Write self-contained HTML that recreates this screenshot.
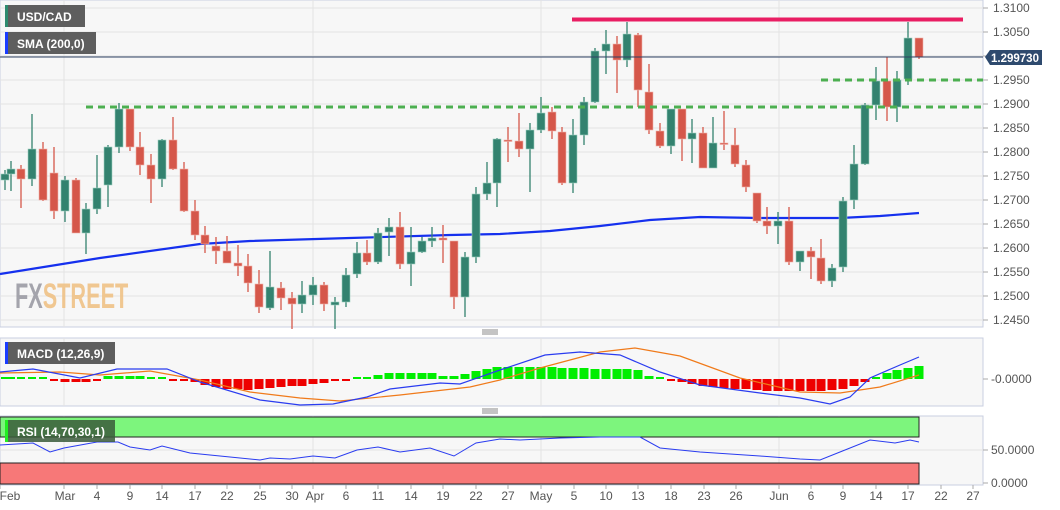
<!DOCTYPE html>
<html><head><meta charset="utf-8">
<style>
html,body{margin:0;padding:0;background:#fff;width:1060px;height:510px;overflow:hidden;font-family:"Liberation Sans",sans-serif;}
svg{display:block}
.ax{font-size:12px;fill:#555;font-family:"Liberation Sans",sans-serif}
.lbl{font-size:12px;fill:#fff;font-weight:bold;font-family:"Liberation Sans",sans-serif}
</style></head><body>
<svg id="s" width="1060" height="510" xmlns="http://www.w3.org/2000/svg">
<rect x="0" y="0" width="983" height="327" fill="#f7f7f7" stroke="#c9cfe0"/>
<rect x="0" y="338" width="983" height="68" fill="#f7f7f7" stroke="#c9cfe0"/>
<rect x="0" y="416" width="983" height="69" fill="#f7f7f7" stroke="#c9cfe0"/>
<g id="grid" stroke="#e3e3e3" stroke-width="1"></g>
<text x="15" y="308" font-size="35" font-weight="bold" fill="#9c9ca4" opacity="0.9" transform="translate(15,0) scale(0.62,1) translate(-15,0)">FX<tspan fill="#f0c287">STREET</tspan></text>
<g id="sma"></g>
<g id="candles"></g>
<line x1="86" y1="107" x2="983" y2="107" stroke="#4caf50" stroke-width="3" stroke-dasharray="7,5"/>
<line x1="821" y1="80" x2="983" y2="80" stroke="#4caf50" stroke-width="3" stroke-dasharray="7,5"/>
<line x1="572" y1="19.5" x2="963" y2="19.5" stroke="#e91e63" stroke-width="4"/>
<line x1="0" y1="57" x2="983" y2="57" stroke="#2e4163" stroke-width="1"/>
<rect x="5" y="5" width="80" height="22" fill="#5e5e5e"/><rect x="5" y="5" width="3" height="22" fill="#2e8b6f"/>
<text x="17" y="21" class="lbl">USD/CAD</text>
<rect x="5" y="32" width="91" height="22" fill="#5e5e5e"/><rect x="5" y="32" width="3" height="22" fill="#1a3cff"/>
<text x="17" y="48" class="lbl">SMA (200,0)</text>
<g id="pax"></g>
<path d="M985,57 L990,50 L1042,50 L1042,65 L990,65 Z" fill="#2e4a6e"/>
<text x="991" y="62" font-size="11.5" font-weight="bold" fill="#fff">1.299730</text>
<g stroke="#888" stroke-width="1"><line x1="482" y1="330" x2="498" y2="330"/><line x1="482" y1="332" x2="498" y2="332"/><line x1="482" y1="334" x2="498" y2="334"/>
<line x1="482" y1="409" x2="498" y2="409"/><line x1="482" y1="411" x2="498" y2="411"/><line x1="482" y1="413" x2="498" y2="413"/></g>
<g id="hist"></g>
<polyline fill="none" stroke="#f07a1a" stroke-width="1.2" points="0,373 60,372 100,375 150,371 200,380 250,392 300,398 340,401 400,395 470,387 500,380 540,368 600,352 635,348 680,356 740,378 800,392 840,393 880,387 919,375"/>
<polyline fill="none" stroke="#2a3cf0" stroke-width="1.2" points="0,372 33,369 80,378 117,369 167,369 200,382 260,400 300,405 333,404 367,397 390,389 440,383 460,384 500,370 545,355 580,352 620,355 660,372 700,385 760,393 800,398 830,404 850,397 870,378 900,365 919,357"/>
<line x1="983" y1="379" x2="988" y2="379" stroke="#aaa"/>
<text x="991" y="383" class="ax">-0.0000</text>
<rect x="5" y="342" width="110" height="22" fill="#5e5e5e"/><rect x="5" y="342" width="3" height="22" fill="#1a3cff"/>
<text x="17" y="358" class="lbl">MACD (12,26,9)</text>
<rect x="0" y="417" width="919" height="20" fill="#7df57d" stroke="#222" stroke-width="1"/>
<rect x="0" y="463" width="919" height="21" fill="#f77878" stroke="#222" stroke-width="1"/>
<line x1="0" y1="450" x2="983" y2="450" stroke="#e3e3e3"/>
<polyline fill="none" stroke="#2a3cf0" stroke-width="1" points="0,445 33,443 50,452 64,448 97,442 118,442 130,447 150,450 162,446 190,453 220,456 260,460 270,458 290,459 313,456 335,458 357,450 378,447 400,452 430,448 454,456 476,443 500,439 520,440 560,438 600,437 640,437 660,448 700,452 760,456 800,459 820,460 845,450 870,440 895,443 910,440 919,442"/>
<rect x="5" y="420" width="110" height="22" fill="#3a5a3a" opacity="0.85"/><rect x="5" y="420" width="3" height="22" fill="#22ee22"/>
<text x="17" y="436" class="lbl">RSI (14,70,30,1)</text>
<line x1="983" y1="450" x2="988" y2="450" stroke="#aaa"/><line x1="983" y1="483" x2="988" y2="483" stroke="#aaa"/>
<text x="991" y="454" class="ax">50.0000</text>
<text x="991" y="487" class="ax">0.0000</text>
<g class="ax" text-anchor="middle">
<text x="10" y="500">Feb</text><text x="65" y="500">Mar</text><text x="97" y="500">4</text><text x="130" y="500">9</text><text x="162" y="500">14</text><text x="195" y="500">17</text><text x="227" y="500">22</text><text x="260" y="500">25</text><text x="292" y="500">30</text><text x="315" y="500">Apr</text><text x="346" y="500">6</text><text x="378" y="500">11</text><text x="411" y="500">14</text><text x="443" y="500">19</text><text x="476" y="500">22</text><text x="508" y="500">27</text><text x="541" y="500">May</text><text x="574" y="500">5</text><text x="606" y="500">10</text><text x="638" y="500">13</text><text x="671" y="500">18</text><text x="704" y="500">23</text><text x="736" y="500">26</text><text x="779" y="500">Jun</text><text x="811" y="500">6</text><text x="843" y="500">9</text><text x="876" y="500">14</text><text x="908" y="500">17</text><text x="941" y="500">22</text><text x="973" y="500">27</text>
</g>
<g id="dt" stroke="#aaa"></g>
<g class="ax">
<text x="993" y="12">1.3100</text><text x="993" y="36">1.3050</text><text x="993" y="84">1.2950</text><text x="993" y="108">1.2900</text><text x="993" y="132">1.2850</text><text x="993" y="156">1.2800</text><text x="993" y="180">1.2750</text><text x="993" y="204">1.2700</text><text x="993" y="228">1.2650</text><text x="993" y="252">1.2600</text><text x="993" y="276">1.2550</text><text x="993" y="300">1.2500</text><text x="993" y="324">1.2450</text>
</g>
</svg>
<script>
var NS="http://www.w3.org/2000/svg";
function el(p,t,a){var e=document.createElementNS(NS,t);for(var k in a)e.setAttribute(k,a[k]);document.getElementById(p).appendChild(e);return e;}
for(var i=0;i<14;i++){var y=8+24*i;el("grid","line",{x1:0,x2:983,y1:y,y2:y});el("pax","line",{x1:983,x2:988,y1:y,y2:y,stroke:"#aaa"});}
[64,313,541,779].forEach(function(x){el("grid","line",{x1:x,x2:x,y1:0,y2:327});el("grid","line",{x1:x,x2:x,y1:338,y2:406});el("grid","line",{x1:x,x2:x,y1:416,y2:485});});
[0,64,97,130,162,195,227,260,292,313,346,378,411,443,476,508,541,574,606,638,671,704,736,779,811,843,876,908,941,973].forEach(function(x){el("dt","line",{x1:x,x2:x,y1:485,y2:489});});
el("sma","polyline",{points:"0,274 100,258 200,244 250,241 350,238 450,235 500,234 550,231 600,226 650,220 700,217 760,218 840,218 880,216 919,213",fill:"none",stroke:"#1530ee","stroke-width":2.2});
var C=[[5,174,180,170,190,1],[11,169,174,161,191,1],[21,169,179,165,208,0],[32,149,179,114,186,1],[43,149,200,142,201,0],[54,173,211,147,219,0],[65,180,211,176,222,1],[76,180,233,178,233,0],[86,209,233,203,254,1],[97,188,209,155,214,1],[108,147,185,145,207,1],[119,109,147,103,153,1],[130,109,147,109,151,0],[140,147,165,132,175,0],[151,165,179,154,203,0],[162,140,179,139,187,1],[173,140,169,117,170,0],[184,169,211,162,212,0],[195,211,235,200,240,0],[205,235,244,226,253,0],[216,246,251,237,264,0],[227,251,263,236,263,0],[238,263,266,245,276,0],[248,266,283,254,292,0],[259,284,307,270,313,0],[270,287,308,251,310,1],[281,288,298,282,310,0],[292,298,304,292,329,0],[302,295,304,281,313,1],[313,285,295,277,305,1],[324,285,304,282,311,0],[335,302,305,297,329,1],[346,275,302,268,307,1],[357,253,274,242,278,1],[367,253,262,240,265,0],[378,233,262,228,264,1],[389,227,232,218,256,1],[400,227,264,212,269,0],[411,252,264,227,286,1],[422,241,252,237,253,1],[432,238,241,227,247,1],[443,238,240,225,263,0],[454,241,297,241,309,0],[465,257,297,252,317,1],[476,194,257,187,263,1],[487,183,194,162,200,1],[497,139,183,138,207,1],[508,140,141,127,162,0],[519,141,149,113,157,0],[530,130,149,123,192,1],[541,113,130,97,133,1],[552,112,131,107,139,0],[562,132,183,127,185,0],[573,135,183,119,193,1],[584,102,135,97,145,1],[595,51,102,48,103,1],[606,44,51,30,74,1],[617,44,60,36,93,0],[627,34,60,22,67,1],[638,35,90,33,107,0],[649,92,130,64,134,0],[660,131,146,123,148,0],[671,109,146,109,154,1],[682,109,139,109,161,0],[692,133,139,119,163,1],[703,133,168,127,168,0],[713,143,168,117,168,1],[724,143,144,111,150,0],[735,145,164,128,167,0],[746,165,187,160,192,0],[757,193,221,193,223,0],[767,221,226,207,234,0],[778,221,226,212,244,1],[789,221,262,207,265,0],[800,251,262,251,271,1],[811,251,257,247,279,0],[821,258,281,239,284,0],[832,268,281,264,287,1],[843,201,267,197,272,1],[854,164,200,145,209,1],[865,105,164,103,165,1],[876,81,105,67,120,1],[887,81,107,57,121,0],[897,80,107,71,122,1],[908,38,79,22,85,1],[919,38,57,38,59,0]];
C.forEach(function(c){var col=c[5]?"#33826f":"#d5574a";
el("candles","line",{x1:c[0],x2:c[0],y1:c[3],y2:c[4],stroke:col,"stroke-width":1.3});
el("candles","rect",{x:c[0]-4,y:c[1],width:8,height:Math.max(1.5,c[2]-c[1]),fill:col,stroke:c[5]?"#9ccfc0":"#f0b0a8","stroke-width":0.6});});
var H=[2,2,2,2,2,-1,-3,-3,-3,-1,3,3,3,3,1,1,-1,-1,-3,-6,-8,-10,-10,-11,-10,-9,-8,-7,-7,-5,-4,-2,-1,1,2,4,6,6,6,6,6,3,3,5,8,10,12,12,12,12,12,12,11,11,11,10,10,10,10,9,3,1,-1,-3,-5,-7,-8,-9,-10,-10,-11,-12,-12,-12,-12,-12,-12,-11,-10,-7,-3,2,6,9,11,13,15,16];
C.forEach(function(c,i){var h=H[i]||0;if(Math.abs(h)<=2){el("hist","rect",{x:c[0]-4,y:h>0?377:379,width:8,height:2,fill:h>0?"#00ee00":"#ee0000"});}
else el("hist","rect",{x:c[0]-4.5,y:h>0?379-h:379,width:9,height:Math.abs(h),fill:h>0?"#00ee00":"#ee0000"});});
</script>
</body></html>
